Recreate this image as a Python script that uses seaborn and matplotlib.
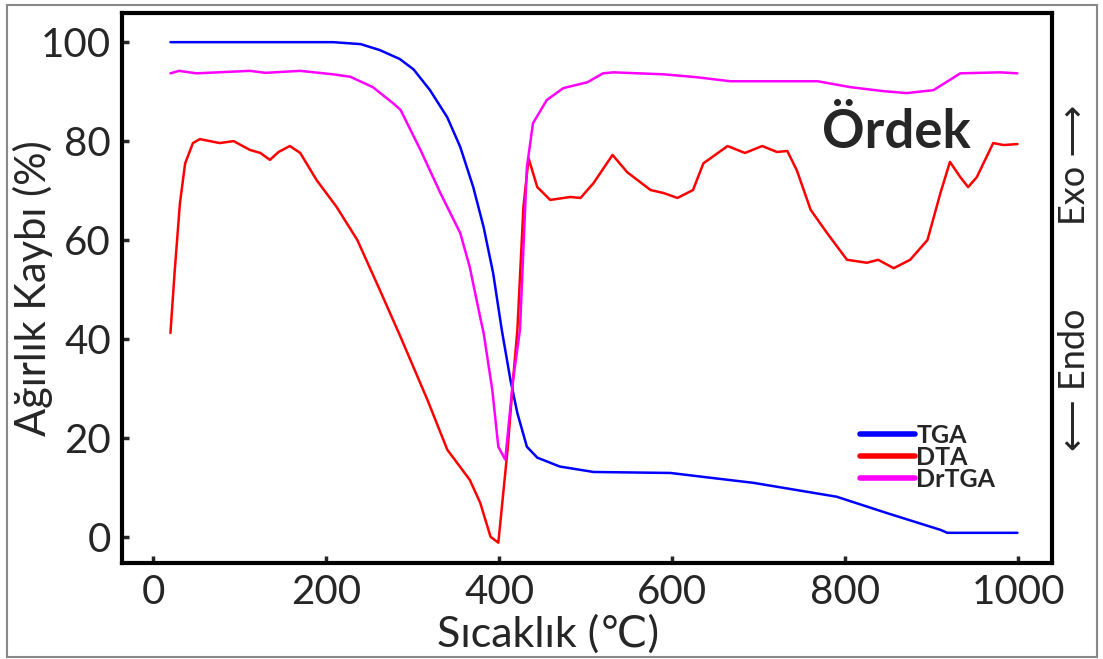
import numpy as np
import pandas as pd
import matplotlib
matplotlib.use('Agg')
import matplotlib.pyplot as plt
import seaborn as sns

# TGA (weight loss, %)
tga_t = [20, 150, 208, 240, 262, 285, 301, 320, 340, 355, 370, 382, 393, 403, 413,
         421, 432, 444, 470, 509, 598, 636, 694, 790, 848, 910, 918, 999]
tga_v = [100, 100, 100, 99.6, 98.4, 96.6, 94.5, 90.3, 84.8, 78.8, 70.7, 62.6, 53.3,
         41.8, 31.7, 25.0, 18.2, 16.0, 14.2, 13.1, 12.9, 12.1, 10.9, 8.1, 4.8, 1.4, 0.8, 0.8]

# DTA
dta_t = [20, 25, 31, 37, 46, 54, 77, 93, 112, 124, 135, 145, 158, 170, 189, 212, 236,
         262, 286, 317, 340, 366, 378, 390, 399, 410, 416, 421, 428, 434, 444, 459, 482,
         494, 509, 531, 548, 575, 590, 606, 624, 636, 664, 684, 704, 721, 733, 744, 760,
         779, 802, 825, 838, 856, 875, 895, 910, 921, 933, 942, 952, 971, 983, 999]
dta_v = [41.2, 53.9, 67.5, 75.5, 79.6, 80.4, 79.6, 80.0, 78.2, 77.6, 76.2, 77.8, 79.0,
         77.6, 72.1, 66.7, 60.0, 49.9, 40.4, 27.7, 17.6, 11.5, 6.9, 0.0, -1.2, 18.2, 31.7,
         41.8, 66.7, 76.5, 70.7, 68.1, 68.7, 68.5, 71.5, 77.2, 73.7, 70.1, 69.5, 68.5,
         70.1, 75.5, 79.0, 77.6, 79.0, 77.8, 78.0, 74.1, 66.1, 61.4, 56.0, 55.4, 56.0,
         54.3, 56.0, 60.0, 69.5, 75.8, 72.7, 70.7, 72.7, 79.6, 79.2, 79.4]

# DrTGA
dr_t = [20, 30, 50, 112, 130, 170, 208, 228, 254, 277, 286, 309, 332, 355, 366, 378,
        382, 392, 399, 407, 416, 424, 432, 439, 455, 474, 502, 520, 532, 590, 629, 667,
        725, 768, 806, 844, 871, 902, 933, 979, 999]
dr_v = [93.7, 94.2, 93.7, 94.2, 93.8, 94.2, 93.5, 93.0, 90.9, 87.7, 86.3, 78.2, 69.5,
        61.4, 54.5, 44.4, 41.2, 29.7, 18.2, 15.6, 31.7, 41.8, 74.7, 83.6, 88.3, 90.7,
        91.9, 93.7, 93.9, 93.5, 92.9, 92.1, 92.1, 92.1, 90.9, 90.1, 89.7, 90.3, 93.7,
        93.9, 93.7]

x_ticks = [0, 200, 400, 600, 800, 1000]
y_ticks = [0, 20, 40, 60, 80, 100]

sns.set_style("ticks")
plt.rcParams['font.family'] = ['Lato', 'DejaVu Sans']

fig = plt.figure(figsize=(11.03, 6.59), dpi=100)
ax = fig.add_axes([0.1106, 0.1457, 0.8432, 0.8346])

series = [(tga_t, tga_v, 'TGA', '#0000ff'),
          (dta_t, dta_v, 'DTA', '#ff0000'),
          (dr_t, dr_v, 'DrTGA', '#ff00ff')]
for t, v, name, col in series:
    df = pd.DataFrame({'T': t, 'V': v})
    sns.lineplot(data=df, x='T', y='V', ax=ax, color=col, linewidth=1.8,
                 label=name, estimator=None)

ax.set_xlim(-36, 1039)
ax.set_ylim(-5.3, 105.9)
ax.set_xticks(x_ticks)
ax.set_yticks(y_ticks)
ax.tick_params(direction='in', length=5, width=2.5, labelsize=29, pad=8,
               top=False, right=False)
for sp in ax.spines.values():
    sp.set_visible(True)
    sp.set_linewidth(3)
    sp.set_color('black')

ax.set_xlabel('Sıcaklık (℃)', fontsize=31)
ax.set_ylabel('Ağırlık Kaybı (%)', fontsize=30)
ax.xaxis.set_label_coords(0.458, -0.094)
ax.yaxis.set_label_coords(-0.074, 0.5)

ax.text(773, 78.6, 'Ördek', fontsize=38, fontweight='bold', va='baseline', ha='left')

leg = ax.legend(loc='upper left', bbox_to_anchor=(0.78, 0.275), frameon=False,
                borderpad=0, handlelength=2.2, handletextpad=0.05, labelspacing=-0.05,
                prop={'size': 18, 'weight': 'bold'})
for line in leg.get_lines():
    line.set_linewidth(4)

fig.text(0.9746, 0.75, 'Exo ⟶', rotation=90, ha='center', va='center', fontsize=26)
fig.text(0.9746, 0.423, '⟵ Endo', rotation=90, ha='center', va='center', fontsize=26)

# thin grey border around the whole picture
fig.patches.append(plt.Rectangle((0.006, 0.003), 0.989, 0.99, transform=fig.transFigure,
                                 fill=False, edgecolor='#888888', linewidth=1.5))

fig.savefig('out.png', dpi=100)
